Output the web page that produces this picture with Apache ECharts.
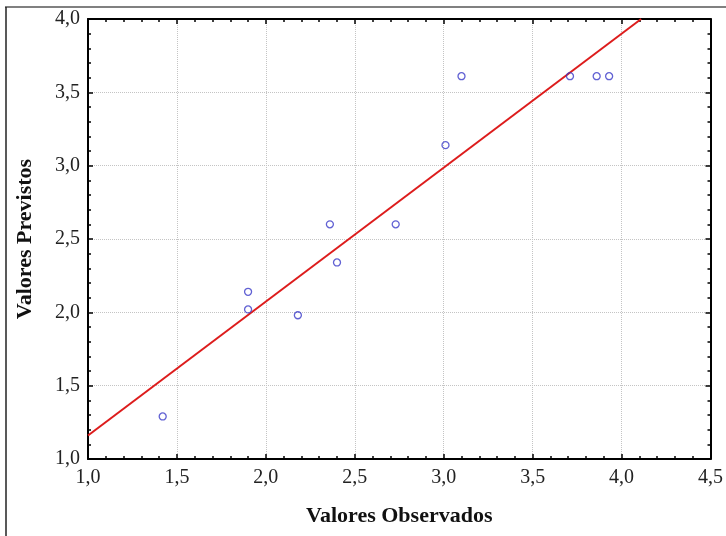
<!DOCTYPE html>
<html>
<head>
<meta charset="utf-8">
<script src="https://cdn.jsdelivr.net/npm/echarts@6/dist/echarts.min.js"></script>
<style>
  html, body { margin: 0; padding: 0; background: #fff; }
  #chart { width: 726px; height: 536px; }
</style>
</head>
<body>
<div id="chart"></div>
<script>
// valores observados / previstos
const observados = [1.42, 1.90, 1.90, 2.18, 2.36, 2.40, 2.73, 3.01, 3.10, 3.71, 3.86, 3.93];
const previstos  = [1.29, 2.14, 2.02, 1.98, 2.60, 2.34, 2.60, 3.14, 3.61, 3.61, 3.61, 3.61];

// reta de ajuste
const retaX = [1.0, 4.11];
const retaY = [1.16, 4.0];

const eixoTitulo = { x: 'Valores Observados', y: 'Valores Previstos' };

const serif = '"Liberation Serif", "Times New Roman", serif';
const fmt = v => v.toFixed(1).replace('.', ',');

const chart = echarts.init(document.getElementById('chart'), null, { renderer: 'canvas' });

// eixo base, ticks para dentro como no Statistica
function baseAxis(extra) {
    return Object.assign({
        type: 'value',
        interval: 0.5,
        axisLine: { show: true, onZero: false, lineStyle: { color: '#000', width: 2 } },
        axisTick: { show: true, inside: true, length: 5, lineStyle: { color: '#000', width: 1.5 } },
        minorTick: { show: true, splitNumber: 5, length: 3, lineStyle: { color: '#000', width: 1.5 } },
        axisLabel: { show: false },
        splitLine: { show: false }
    }, extra);
}

const option = {
    animation: false,
    backgroundColor: '#fff',
    grid: { left: 88, top: 19, right: 14, bottom: 77, containLabel: false },
    graphic: [
        { type: 'line', shape: { x1: 5, y1: 7, x2: 726, y2: 7 }, style: { stroke: '#808080', lineWidth: 2 } },
        { type: 'line', shape: { x1: 6, y1: 7, x2: 6, y2: 536 }, style: { stroke: '#222', lineWidth: 1.5 } }
    ],
    xAxis: [
        baseAxis({
            min: 1.0, max: 4.5, position: 'bottom',
            name: eixoTitulo.x, nameLocation: 'middle', nameGap: 46,
            nameTextStyle: { fontFamily: serif, fontSize: 22, fontWeight: 'bold', color: '#111' },
            axisLabel: { show: true, fontFamily: serif, fontSize: 20, color: '#222', margin: 9, formatter: fmt },
            splitLine: { show: true, lineStyle: { color: '#c4c4c4', type: 'dotted', width: 1 } }
        }),
        baseAxis({ min: 1.0, max: 4.5, position: 'top' })
    ],
    yAxis: [
        baseAxis({
            min: 1.0, max: 4.0, position: 'left',
            name: eixoTitulo.y, nameLocation: 'middle', nameGap: 52,
            nameTextStyle: { fontFamily: serif, fontSize: 22, fontWeight: 'bold', color: '#111' },
            axisLabel: { show: true, fontFamily: serif, fontSize: 20, color: '#222', margin: 8, formatter: fmt },
            splitLine: { show: true, lineStyle: { color: '#c4c4c4', type: 'dotted', width: 1 } }
        }),
        baseAxis({ min: 1.0, max: 4.0, position: 'right' })
    ],
    series: [
        {
            name: 'Reta',
            type: 'line',
            data: retaX.map((x, i) => [x, retaY[i]]),
            showSymbol: false,
            lineStyle: { color: '#dd1c1c', width: 2 },
            z: 3
        },
        {
            name: 'Observações',
            type: 'scatter',
            data: observados.map((x, i) => [x, previstos[i]]),
            symbol: 'circle',
            symbolSize: 7,
            itemStyle: { color: 'transparent', borderColor: '#3a3ac8', borderWidth: 1.3 },
            z: 4
        }
    ]
};

chart.setOption(option);
</script>
</body>
</html>
